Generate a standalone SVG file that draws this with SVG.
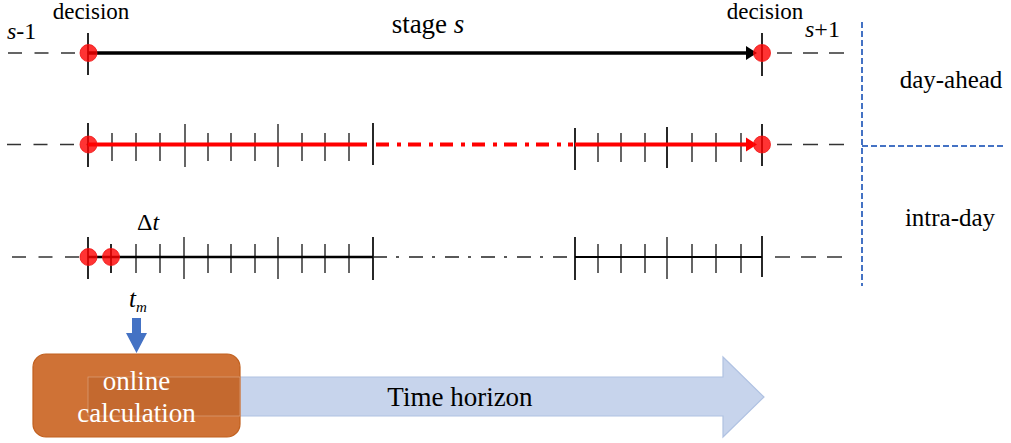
<svg xmlns="http://www.w3.org/2000/svg" width="1011" height="443" viewBox="0 0 1011 443">
<style>
.t{font-family:"Liberation Serif","Times New Roman",serif;fill:#000}
.i{font-style:italic}
.dash{stroke:#333;stroke-width:1.6;stroke-dasharray:14 12.5;fill:none}
.dashR{stroke:#333;stroke-width:1.6;stroke-dasharray:15 11;fill:none}
.maj{stroke:#111;stroke-width:1.8}
.min{stroke:#555;stroke-width:1.8}
.dot{fill:#ff0000;fill-opacity:0.8;stroke:#ee1111;stroke-width:0.8}
.blue{stroke:#4472c4;stroke-width:2;stroke-dasharray:6 3;fill:none}
</style>
<rect width="1011" height="443" fill="#fff"/>

<g id="connectors">
  <!-- row 1 -->
  <line class="dash" x1="8" y1="53" x2="88" y2="53"/>
  <line class="dashR" x1="777" y1="53" x2="846" y2="53"/>
  <line x1="88" y1="53" x2="748" y2="53" stroke="#000" stroke-width="3.5"/>
  <polygon points="746,46 757,53 746,60" fill="#000"/>
  <line class="maj" x1="88" y1="33" x2="88" y2="75"/>
  <line class="maj" x1="762" y1="33" x2="762" y2="76"/>

  <!-- row 2 -->
  <line class="dash" x1="7" y1="144.5" x2="88" y2="144.5"/>
  <line class="dashR" x1="777" y1="144.5" x2="846" y2="144.5"/>
  <g>
    <line class="maj" x1="88" y1="123" x2="88" y2="167"/>
    <line class="min" x1="112" y1="133" x2="112" y2="161"/>
    <line class="min" x1="136" y1="133" x2="136" y2="161"/>
    <line class="min" x1="160" y1="133" x2="160" y2="161"/>
    <line class="min" x1="185" y1="124" x2="185" y2="167"/>
    <line class="min" x1="208" y1="133" x2="208" y2="161"/>
    <line class="min" x1="231" y1="133" x2="231" y2="161"/>
    <line class="min" x1="255" y1="133" x2="255" y2="161"/>
    <line class="min" x1="278" y1="124" x2="278" y2="167"/>
    <line class="min" x1="302" y1="133" x2="302" y2="161"/>
    <line class="min" x1="325" y1="133" x2="325" y2="161"/>
    <line class="min" x1="349" y1="133" x2="349" y2="161"/>
    <line class="maj" x1="373" y1="123" x2="373" y2="165"/>
    <line class="maj" x1="575" y1="128" x2="575" y2="170"/>
    <line class="min" x1="598" y1="133" x2="598" y2="162"/>
    <line class="min" x1="621" y1="133" x2="621" y2="162"/>
    <line class="min" x1="645" y1="133" x2="645" y2="162"/>
    <line class="maj" x1="667" y1="127" x2="667" y2="168"/>
    <line class="min" x1="692" y1="133" x2="692" y2="162"/>
    <line class="min" x1="716" y1="133" x2="716" y2="162"/>
    <line class="min" x1="741" y1="133" x2="741" y2="162"/>
    <line class="maj" x1="762" y1="124" x2="762" y2="166"/>
  </g>
  <line x1="88" y1="144.5" x2="367" y2="144.5" stroke="#ff0000" stroke-width="4"/>
  <line x1="376" y1="144.5" x2="573" y2="144.5" stroke="#ff0000" stroke-width="4" stroke-dasharray="13 8 4 7"/>
  <line x1="575" y1="144.5" x2="748" y2="144.5" stroke="#ff0000" stroke-width="4"/>
  <polygon points="746,137.5 757,144.5 746,151.5" fill="#ff0000"/>

  <!-- row 3 -->
  <line class="dash" x1="12" y1="257" x2="88" y2="257"/>
  <line class="dashR" x1="775" y1="257" x2="846" y2="257"/>
  <g>
    <line class="maj" x1="88" y1="237" x2="88" y2="279"/>
    <line class="maj" x1="111" y1="244" x2="111" y2="273"/>
    <line class="min" x1="136" y1="244" x2="136" y2="273"/>
    <line class="min" x1="160" y1="244" x2="160" y2="273"/>
    <line class="min" x1="184" y1="237" x2="184" y2="279"/>
    <line class="min" x1="208" y1="244" x2="208" y2="273"/>
    <line class="min" x1="231" y1="244" x2="231" y2="273"/>
    <line class="min" x1="255" y1="244" x2="255" y2="273"/>
    <line class="min" x1="278" y1="237" x2="278" y2="279"/>
    <line class="min" x1="302" y1="244" x2="302" y2="273"/>
    <line class="min" x1="325" y1="244" x2="325" y2="273"/>
    <line class="min" x1="349" y1="244" x2="349" y2="273"/>
    <line class="maj" x1="373" y1="237" x2="373" y2="280"/>
    <line class="maj" x1="575" y1="237" x2="575" y2="280"/>
    <line class="min" x1="598" y1="244" x2="598" y2="273"/>
    <line class="min" x1="621" y1="244" x2="621" y2="273"/>
    <line class="min" x1="645" y1="244" x2="645" y2="273"/>
    <line class="min" x1="667" y1="237" x2="667" y2="279"/>
    <line class="min" x1="692" y1="244" x2="692" y2="273"/>
    <line class="min" x1="716" y1="244" x2="716" y2="273"/>
    <line class="min" x1="741" y1="244" x2="741" y2="273"/>
    <line class="maj" x1="762" y1="236" x2="762" y2="277"/>
  </g>
  <line x1="88" y1="257" x2="373" y2="257" stroke="#000" stroke-width="2.5"/>
  <line x1="373" y1="257" x2="575" y2="257" stroke="#222" stroke-width="1.6" stroke-dasharray="14 9 3 10"/>
  <line x1="575" y1="257" x2="762" y2="257" stroke="#000" stroke-width="2"/>

  <!-- blue separators -->
  <line class="blue" x1="862" y1="22" x2="862" y2="286"/>
  <line class="blue" x1="862" y1="146" x2="1004" y2="146"/>

  <!-- t_m arrow -->
  <polygon points="132,318 141,318 141,333 147,333 136.5,353 126,333 132,333" fill="#4472c4"/>
</g>

<g id="decision-points">
  <circle class="dot" cx="88.5" cy="53" r="8.5"/>
  <circle class="dot" cx="762" cy="53" r="8.5"/>
  <circle class="dot" cx="88.5" cy="144.5" r="8.5"/>
  <circle class="dot" cx="762" cy="144.5" r="8.5"/>
  <circle class="dot" cx="88.5" cy="257" r="8.5"/>
  <circle class="dot" cx="111" cy="257" r="8.5"/>
</g>

<g id="labels">
  <text class="t" x="91" y="19" font-size="23" text-anchor="middle">decision</text>
  <text class="t" x="765" y="19" font-size="23" text-anchor="middle">decision</text>
  <text class="t" x="7" y="39" font-size="24"><tspan class="i">s</tspan>-1</text>
  <text class="t" x="805" y="37" font-size="24"><tspan class="i">s</tspan>+1</text>
  <text class="t" x="428" y="33" font-size="27" text-anchor="middle">stage <tspan class="i">s</tspan></text>
  <text class="t" x="137" y="230" font-size="24">Δ<tspan class="i">t</tspan></text>
  <text class="t" x="951" y="88" font-size="25" text-anchor="middle">day-ahead</text>
  <text class="t" x="950" y="226" font-size="25" text-anchor="middle">intra-day</text>
  <text class="t i" x="129" y="307" font-size="25">t<tspan font-size="15" dy="5">m</tspan></text>
</g>

<g id="time-horizon">
  <polygon points="88,377 723,377 723,357 764,397 723,437 723,416 88,416" fill="#c7d4ec" stroke="#b0c2e2" stroke-width="1.2"/>
  <text class="t" x="460" y="406" font-size="27" text-anchor="middle">Time horizon</text>
</g>

<g id="online-calculation">
  <rect x="33" y="354" width="207" height="83" rx="13" fill="#cf7236" stroke="#c1601f" stroke-width="1.2"/>
  <rect x="88" y="377" width="152" height="39" fill="#c4692f" stroke="#d99a72" stroke-width="0.8"/>
  <text class="t" x="136.5" y="390" font-size="27" text-anchor="middle" style="fill:#fff">online</text>
  <text class="t" x="136.5" y="422" font-size="27" text-anchor="middle" style="fill:#fff">calculation</text>
</g>
</svg>
